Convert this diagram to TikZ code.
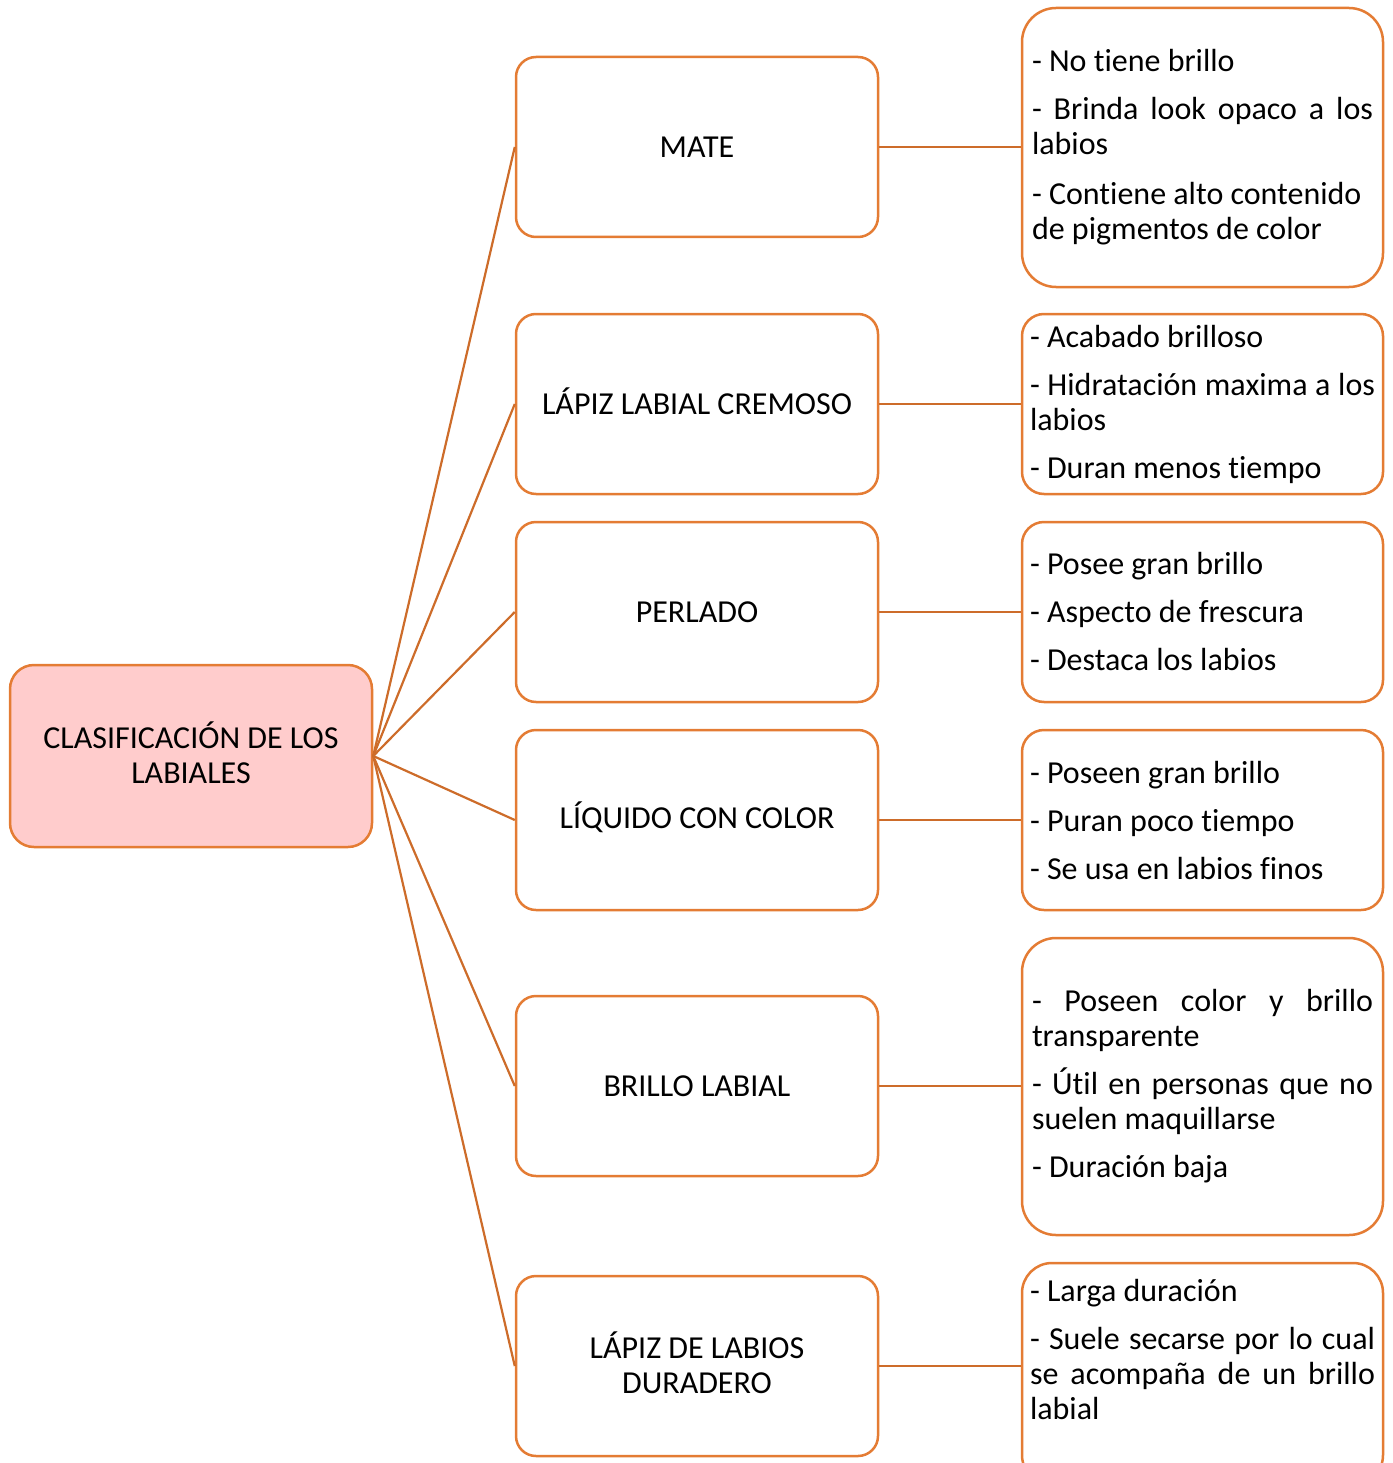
\documentclass[tikz,border=0pt]{standalone}
\usepackage{fontspec}
\setmainfont[Ligatures={NoCommon}]{Carlito}
\hyphenpenalty=10000
\exhyphenpenalty=10000
\definecolor{boxline}{RGB}{228,124,52}
\definecolor{conn}{RGB}{205,108,42}
\definecolor{rootfill}{RGB}{255,204,204}
\begin{document}
\begin{tikzpicture}[x=1pt,y=-1pt,
  boxbase/.style={draw=boxline, line width=2.5pt, inner sep=0pt, font=\fontsize{32}{35}\selectfont},
  rootbox/.style={boxbase, fill=rootfill, rounded corners=24pt, minimum width=362pt, minimum height=182pt, text width=330pt, align=flush center},
  midbox/.style={boxbase, fill=white, rounded corners=20pt, minimum width=362pt, minimum height=180pt, text width=330pt, align=flush center},
  infobox/.style={boxbase, fill=white, minimum width=361pt, text width=345pt, align=justify},
  infotext/.style={inner sep=0pt, font=\fontsize{32}{35}\selectfont, text width=345pt, align=justify},
  conline/.style={draw=conn, line width=2.2pt}
]
\useasboundingbox (0,0) rectangle (1392,1463);

\node[rootbox] (root) at (191,756) {CLASIFICACI\smash{Ó}N DE LOS LABIALES};

\node[midbox] (m1) at (697,147) {MATE};
\node[midbox] (m2) at (697,404) {L\smash{Á}PIZ LABIAL CREMOSO};
\node[midbox] (m3) at (697,612) {PERLADO};
\node[midbox] (m4) at (697,820) {L\smash{Í}QUIDO CON COLOR};
\node[midbox] (m5) at (697,1086) {BRILLO LABIAL};
\node[midbox] (m6) at (697,1366) {L\smash{Á}PIZ DE LABIOS DURADERO};

\node[infobox, text width=341pt, minimum height=279pt, rounded corners=34pt] (r1) at (1202.5,147.5)
  {- No tiene brillo\\[13pt]- Brinda look opaco a los labios\\[15pt]- Contiene alto contenido\\de pigmentos de color};
\node[infobox, minimum height=180pt, rounded corners=22pt] (r2) at (1202.5,404)
  {- Acabado brilloso\\[13pt]- Hidratación maxima a los labios\\[13pt]- Duran menos tiempo};
\node[infobox, minimum height=180pt, rounded corners=22pt] (r3) at (1202.5,612)
  {- Posee gran brillo\\[13pt]- Aspecto de frescura\\[13pt]- Destaca los labios};
\node[infobox, minimum height=180pt, rounded corners=22pt] (r4) at (1202.5,820)
  {- Poseen gran brillo\\[13pt]- Puran poco tiempo\\[13pt]- Se usa en labios finos};
\node[infobox, text width=341pt, minimum height=297pt, rounded corners=34pt] (r5) at (1202.5,1086.5)
  {- Poseen color y brillo transparente\\[13pt]- Útil en personas que no suelen maquillarse\\[13pt]- Duración baja};
\node[infobox, minimum height=222pt, rounded corners=30pt] (r6) at (1202.5,1374) {};
\node[infotext, anchor=north] (t6) at (1202.5,1279)
  {- Larga duración\\[13pt]- Suele secarse por lo cual se acompaña de un brillo labial};

\foreach \m in {m1,m2,m3,m4,m5,m6}{
  \draw[conline] (root.east) -- (\m.west);
}
\foreach \m/\r in {m1/r1,m2/r2,m3/r3,m4/r4,m5/r5,m6/r6}{
  \draw[conline] (\m.east) -- (\m.east -| \r.west);
}
\end{tikzpicture}
\end{document}
